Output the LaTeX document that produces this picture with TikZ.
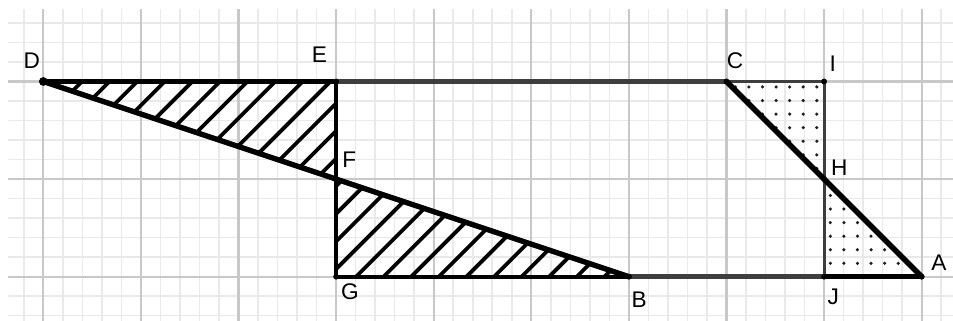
\documentclass[tikz,border=0pt]{standalone}
\usepackage{fontspec}
\setmainfont{Liberation Sans}
\definecolor{majgrid}{RGB}{200,200,200}
\definecolor{mingrid}{RGB}{233,233,233}
\definecolor{edgegray}{RGB}{62,62,62}
\definecolor{dotcol}{RGB}{30,30,30}
\begin{document}
\begin{tikzpicture}[x=1cm,y=1cm,
  minorgrid/.style={draw=mingrid,line width=0.45pt},
  majorgrid/.style={draw=majgrid,line width=0.6pt},
  thickblack/.style={draw=black,line width=1.55pt,line cap=round},
  thickgray/.style={draw=edgegray,line width=1.6pt},
  thinedge/.style={draw=edgegray,line width=0.9pt},
  midblack/.style={draw=black,line width=0.95pt},
  hatchline/.style={draw=black,line width=1.1pt},
  vertexdot/.style={fill=black},
  lbl/.style={font=\fontsize{6.6}{8}\selectfont,inner sep=0pt,text=black}
]
\useasboundingbox (-0.444,-0.444) rectangle (9.321,2.835);
% grid
\begin{scope}
\clip (-0.36,-0.444) rectangle (9.321,2.733);
\foreach \x in {-0.2,0.2,0.4,...,9.2} \draw[minorgrid] (\x,-0.5) -- (\x,2.8);
\foreach \y in {-0.4,-0.2,0.2,0.4,...,2.6} \draw[minorgrid] (-0.5,\y) -- (9.4,\y);
\foreach \x in {0,...,9} \draw[majorgrid] (\x,-0.5) -- (\x,2.8);
\foreach \y in {0,1,2} \draw[majorgrid] (-0.5,\y) -- (9.4,\y);
\end{scope}
% points
\coordinate (D) at (0,2);
\coordinate (E) at (3,2);
\coordinate (C) at (7,2);
\coordinate (I) at (8,2);
\coordinate (F) at (3,1);
\coordinate (H) at (8,1);
\coordinate (G) at (3,0);
\coordinate (B) at (6,0);
\coordinate (J) at (8,0);
\coordinate (A) at (9,0);
% hatching
\begin{scope}
\clip (D) -- (E) -- (F) -- cycle (F) -- (G) -- (B) -- cycle;
\foreach \k in {-23,...,8} \draw[hatchline] (-1,{-1+0.19+0.2828*\k}) -- (10,{10+0.19+0.2828*\k});
\end{scope}
% dots
\begin{scope}
\clip (C) -- (I) -- (H) -- cycle (H) -- (J) -- (A) -- cycle;
\foreach \i in {-1,...,14} \foreach \j in {0,...,14} \fill[dotcol] ({7.23+0.139*\i},{1.944-0.139*\j}) circle (0.018);
\end{scope}
% edges
\draw[thinedge] (C) -- (I);
\draw[thinedge] (I) -- (H) -- (J);
\draw[midblack] (E) -- (F) -- (G);
\draw[thickgray] (E) -- (C);
\draw[thickgray] (B) -- (J);
\draw[thickblack] (D) -- (E);
\draw[thickblack] (D) -- (F) -- (B);
\draw[thickblack] (C) -- (H) -- (A);
\draw[draw=black,line width=1.25pt] (G) -- (B);
\draw[thickblack] (J) -- (A);
% vertex dots
\fill[vertexdot] (D) circle (0.045);
\foreach \p in {E,C,I,F,H,G,B,J,A} \fill[vertexdot] (\p) circle (0.03);
% labels
\node[lbl] (labD) at (-0.119,2.210) {D};
\node[lbl] (labE) at (2.828,2.272) {E};
\node[lbl] (labF) at (3.135,1.196) {F};
\node[lbl] (labG) at (3.142,-0.154) {G};
\node[lbl] (labB) at (6.106,-0.231) {B};
\node[lbl] (labC) at (7.087,2.213) {C};
\node[lbl] (labI) at (8.088,2.179) {I};
\node[lbl] (labH) at (8.155,1.117) {H};
\node[lbl] (labA) at (9.177,0.143) {A};
\node[lbl] (labJ) at (8.094,-0.205) {J};
\end{tikzpicture}
\end{document}
